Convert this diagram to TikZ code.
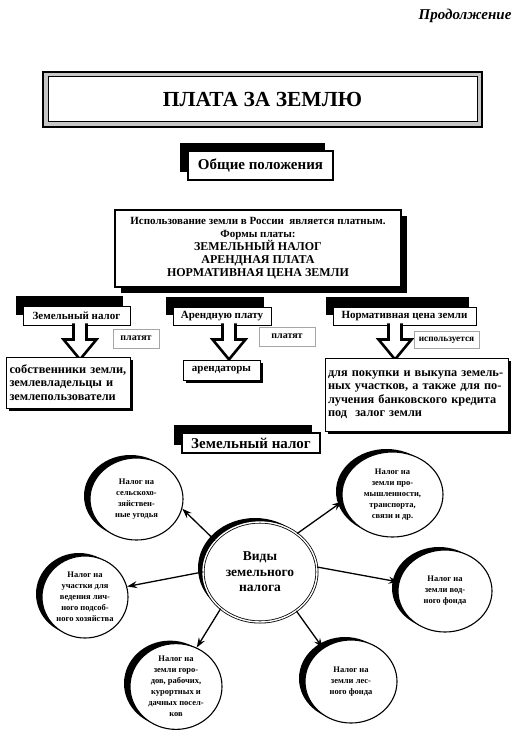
\documentclass[tikz,border=0pt]{standalone}
\usepackage{fontspec}
\setmainfont{Liberation Serif}
\usetikzlibrary{shadows,shapes.geometric,arrows.meta}
\begin{document}
\begin{tikzpicture}[x=1pt,y=-1pt,
  hdr/.style={draw, line width=0.9pt, fill=white, inner sep=0pt,
    font=\bfseries\fontsize{11}{13}\selectfont,
    general shadow={fill=black, shadow xshift=-7pt, shadow yshift=10pt}},
  sechdr/.style={draw, line width=1.1pt, fill=white, inner sep=0pt,
    font=\bfseries\fontsize{15}{17}\selectfont,
    general shadow={fill=black, shadow xshift=-8pt, shadow yshift=8pt}},
  lbl/.style={draw=gray!70, line width=0.6pt, fill=white, inner sep=0pt,
    font=\bfseries\fontsize{10}{12}\selectfont},
  res/.style={draw, line width=1pt, fill=white, inner sep=0pt,
    font=\bfseries\fontsize{12.3}{13.5}\selectfont,
    general shadow={fill=black, shadow xshift=3pt, shadow yshift=-3pt}},
  ell/.style={ellipse, draw, line width=1.1pt, fill=white, inner sep=0pt,
    align=center, font=\bfseries\fontsize{8.5}{11}\selectfont,
    general shadow={fill=black, shadow xshift=-6pt, shadow yshift=3pt}},
  ctrc/.style={ellipse, draw, double, double distance=1.4pt, line width=0.8pt,
    fill=white, inner sep=0pt, align=center,
    font=\bfseries\fontsize{13.5}{15.5}\selectfont,
    general shadow={fill=black, shadow xshift=-5pt, shadow yshift=4pt}},
  conn/.style={line width=1.3pt, -{Stealth[length=10pt,width=7pt,inset=3.5pt]}},
  blk/.pic={\draw[line width=2.6pt, fill=white, line join=miter]
    (-6.5,-2) -- (-6.5,14) -- (-16.5,14) -- (0,34) -- (16.5,14) -- (6.5,14) -- (6.5,-2);}
]
\useasboundingbox (0,0) rectangle (518,733);
\fill[white] (0,0) rectangle (518,733);

\node[anchor=east, font=\bfseries\itshape\fontsize{15}{17}\selectfont] (prod) at (515,16) {Продолжение};

\node[draw, line width=1.5pt, fill=gray!45, minimum width=439pt, minimum height=55pt] (frame) at (262.5,99.5) {};
\node[draw, line width=1pt, fill=white, minimum width=429pt, minimum height=45pt,
  font=\bfseries\fontsize{21.5}{24}\selectfont] (title) at (262.5,99.5) {ПЛАТА ЗА ЗЕМЛЮ};

\node[sechdr, minimum width=145pt, minimum height=29pt] (gen) at (260.5,165.5) {Общие положения};

\node[draw, line width=1.2pt, fill=white, minimum width=286pt, minimum height=77pt,
  align=center, font=\bfseries\fontsize{11}{13}\selectfont,
  general shadow={fill=black, shadow xshift=6pt, shadow yshift=-6pt}] (main) at (258,248.5)
  {Использование земли в России\ \ является платным.\\Формы платы:\\
   {\fontsize{12}{13}\selectfont ЗЕМЕЛЬНЫЙ НАЛОГ}\\{\fontsize{12}{13}\selectfont АРЕНДНАЯ ПЛАТА}\\
   {\fontsize{12}{13}\selectfont НОРМАТИВНАЯ ЦЕНА ЗЕМЛИ}};

\node[hdr, minimum width=107pt, minimum height=19pt] (h1) at (76.5,315.5) {Земельный налог};
\node[hdr, minimum width=98pt, minimum height=18pt] (h2) at (222,316) {Арендную плату};
\node[hdr, minimum width=143pt, minimum height=18pt] (h3) at (404.5,316) {Нормативная цена земли};

\pic at ([xshift=3.5pt]h1.south) {blk};
\pic at ([xshift=7pt]h2.south) {blk};
\pic at ([xshift=-9.5pt]h3.south) {blk};

\node[lbl, minimum width=46pt, minimum height=19pt] (p1) at (136,338.5) {платят};
\node[lbl, minimum width=56pt, minimum height=19pt] (p2) at (287,336.5) {платят};
\node[lbl, minimum width=65pt, minimum height=17pt, font=\bfseries\fontsize{9.3}{11}\selectfont] (isp) at (446.5,340) {используется};

\node[res, minimum height=51pt, text width=117pt, inner xsep=3.5pt, align=left] (r1) at (68,382.5)
  {собственники земли,\\землевладельцы и\\землепользователи};
\node[res, minimum width=77pt, minimum height=20pt, font=\bfseries\fontsize{11}{13}\selectfont] (r2) at (221.5,370) {арендаторы};
\node[res, minimum height=73pt, text width=177pt, inner xsep=3pt, align=left] (r3) at (416.5,394.5)
  {для покупки и выкупа земель-\\ных участков, а также для по-\\лучения банковского кредита\\под\ \ залог земли};

\node[sechdr, minimum width=138pt, minimum height=20pt] (land) at (251,443) {Земельный налог};

\node[ctrc, minimum width=114pt, minimum height=100pt] (ctr) at (260,572) {Виды\\земельного\\налога};

\node[ell, minimum width=93pt, minimum height=82pt] (A) at (136.5,499) {Налог на\\сельскохо-\\зяйствен-\\ные угодья};
\node[ell, minimum width=101pt, minimum height=85pt] (B) at (392.5,494.5) {Налог на\\земли про-\\мышленности,\\транспорта,\\связи и др.};
\node[ell, minimum width=86pt, minimum height=82pt] (C) at (85,597) {Налог на\\участки для\\ведения лич-\\ного подсоб-\\ного хозяйства};
\node[ell, minimum width=92pt, minimum height=77pt] (D) at (176,686.5) {Налог на\\земли горо-\\дов, рабочих,\\курортных и\\дачных посел-\\ков};
\node[ell, minimum width=94pt, minimum height=82pt] (E) at (445,591) {Налог на\\земли вод-\\ного фонда};
\node[ell, minimum width=92pt, minimum height=83pt] (F) at (351,681.5) {Налог на\\земли лес-\\ного фонда};

\draw[conn] (ctr.145) -- (A.-12);
\draw[conn] (ctr.46) -- (B.188);
\draw[conn] (ctr.180) -- (C.14);
\draw[conn] (ctr.223) -- (D.62);
\draw[conn] (ctr.5) -- (E.169);
\draw[conn] (ctr.-47) -- (F.130);
\end{tikzpicture}
\end{document}
